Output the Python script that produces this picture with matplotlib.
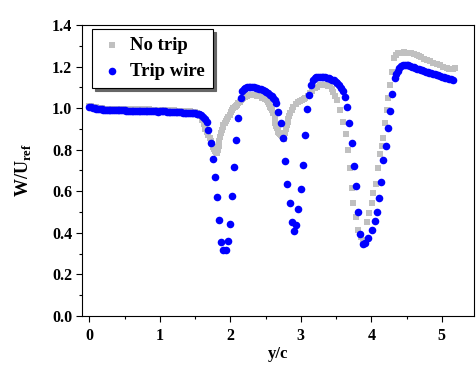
import numpy as np
import matplotlib
matplotlib.use('Agg')
import matplotlib.pyplot as plt

plt.rcParams['font.family'] = ['Liberation Serif', 'DejaVu Serif']
plt.rcParams['font.weight'] = 'bold'
plt.rcParams['mathtext.fontset'] = 'custom'
plt.rcParams['mathtext.rm'] = 'Liberation Serif:bold'
plt.rcParams['mathtext.bf'] = 'Liberation Serif:bold'

# 数据
# No trip
notrip_x = [0.000, 0.025, 0.050, 0.075, 0.100, 0.125, 0.150, 0.175, 0.200, 0.225, 0.250, 0.275,
            0.300, 0.325, 0.350, 0.375, 0.400, 0.425, 0.450, 0.475, 0.500, 0.525, 0.550, 0.575,
            0.600, 0.625, 0.650, 0.675, 0.700, 0.725, 0.750, 0.775, 0.800, 0.825, 0.850, 0.875,
            0.900, 0.925, 0.950, 0.975, 1.000, 1.025, 1.050, 1.075, 1.100, 1.125, 1.150, 1.175,
            1.200, 1.225, 1.250, 1.275, 1.300, 1.325, 1.350, 1.375, 1.400, 1.425, 1.450, 1.475,
            1.500, 1.525, 1.550, 1.575, 1.600, 1.620, 1.641, 1.665, 1.688, 1.707, 1.726, 1.743,
            1.759, 1.771, 1.783, 1.795, 1.807, 1.820, 1.833, 1.844, 1.854, 1.866, 1.878, 1.890,
            1.901, 1.918, 1.936, 1.954, 1.972, 1.990, 2.007, 2.025, 2.043, 2.060, 2.078, 2.095,
            2.113, 2.132, 2.152, 2.168, 2.184, 2.205, 2.223, 2.240, 2.255, 2.275, 2.294, 2.320,
            2.350, 2.385, 2.421, 2.455, 2.492, 2.515, 2.535, 2.550, 2.563, 2.577, 2.591, 2.610,
            2.627, 2.634, 2.646, 2.658, 2.670, 2.681, 2.693, 2.704, 2.717, 2.729, 2.742, 2.755,
            2.765, 2.775, 2.788, 2.800, 2.812, 2.823, 2.835, 2.847, 2.870, 2.894, 2.930, 2.965,
            2.990, 3.017, 3.040, 3.060, 3.095, 3.130, 3.165, 3.201, 3.235, 3.272, 3.305, 3.343,
            3.380, 3.414, 3.440, 3.461, 3.485, 3.509, 3.556, 3.603, 3.637, 3.665, 3.698, 3.726,
            3.745, 3.783, 3.816, 3.850, 3.887, 3.935, 3.972, 4.006, 4.028, 4.062, 4.091, 4.123,
            4.148, 4.170, 4.194, 4.218, 4.238, 4.262, 4.290, 4.322, 4.350, 4.380, 4.405, 4.430,
            4.460, 4.502, 4.530, 4.563, 4.600, 4.644, 4.675, 4.705, 4.745, 4.786, 4.830, 4.875,
            4.925, 4.974, 5.020, 5.070, 5.100, 5.130, 5.160, 5.187]
notrip_y = [1.012, 1.010, 1.007, 1.005, 1.003, 1.001, 1.000, 0.999, 0.998, 0.997, 0.997, 0.996,
            0.996, 0.996, 0.996, 0.996, 0.996, 0.995, 0.996, 0.996, 0.996, 0.995, 0.995, 0.994,
            0.994, 0.994, 0.995, 0.995, 0.996, 0.995, 0.995, 0.996, 0.995, 0.995, 0.994, 0.993,
            0.993, 0.992, 0.992, 0.991, 0.992, 0.992, 0.993, 0.992, 0.991, 0.991, 0.990, 0.989,
            0.989, 0.988, 0.988, 0.987, 0.987, 0.986, 0.986, 0.985, 0.985, 0.984, 0.983, 0.982,
            0.981, 0.978, 0.973, 0.962, 0.945, 0.922, 0.899, 0.885, 0.871, 0.857, 0.842, 0.828,
            0.814, 0.804, 0.794, 0.788, 0.783, 0.800, 0.818, 0.840, 0.862, 0.878, 0.895, 0.907,
            0.919, 0.930, 0.940, 0.950, 0.959, 0.969, 0.979, 0.989, 0.999, 1.005, 1.011, 1.017,
            1.023, 1.030, 1.037, 1.042, 1.047, 1.052, 1.056, 1.060, 1.063, 1.064, 1.065, 1.064,
            1.063, 1.060, 1.056, 1.051, 1.046, 1.038, 1.029, 1.018, 1.007, 0.999, 0.991, 0.975,
            0.952, 0.927, 0.915, 0.904, 0.895, 0.886, 0.880, 0.875, 0.871, 0.866, 0.860, 0.852,
            0.866, 0.880, 0.900, 0.919, 0.934, 0.948, 0.962, 0.975, 0.991, 1.007, 1.020, 1.031,
            1.035, 1.039, 1.043, 1.047, 1.059, 1.071, 1.083, 1.095, 1.103, 1.109, 1.111, 1.111,
            1.108, 1.104, 1.093, 1.079, 1.060, 1.039, 0.991, 0.935, 0.875, 0.798, 0.713, 0.614,
            0.545, 0.478, 0.414, 0.381, 0.366, 0.454, 0.497, 0.542, 0.590, 0.635, 0.713, 0.778,
            0.820, 0.858, 0.927, 0.991, 1.047, 1.111, 1.175, 1.240, 1.255, 1.264, 1.266, 1.267,
            1.268, 1.267, 1.266, 1.265, 1.260, 1.255, 1.250, 1.246, 1.238, 1.231, 1.225, 1.219,
            1.213, 1.207, 1.200, 1.193, 1.190, 1.188, 1.189, 1.191]

# Trip wire
trip_x = [0.000, 0.025, 0.050, 0.075, 0.100, 0.125, 0.150, 0.175, 0.200, 0.225, 0.250, 0.275,
          0.300, 0.325, 0.350, 0.375, 0.400, 0.425, 0.450, 0.475, 0.500, 0.525, 0.550, 0.575,
          0.600, 0.625, 0.650, 0.675, 0.700, 0.725, 0.750, 0.775, 0.800, 0.825, 0.850, 0.875,
          0.900, 0.925, 0.950, 0.975, 1.000, 1.025, 1.050, 1.075, 1.100, 1.125, 1.150, 1.175,
          1.200, 1.225, 1.250, 1.275, 1.300, 1.325, 1.350, 1.375, 1.400, 1.425, 1.450, 1.475,
          1.500, 1.525, 1.550, 1.580, 1.617, 1.645, 1.665, 1.688, 1.722, 1.750, 1.783, 1.811,
          1.840, 1.868, 1.896, 1.939, 1.963, 1.996, 2.028, 2.057, 2.085, 2.113, 2.152, 2.170,
          2.190, 2.210, 2.235, 2.260, 2.285, 2.310, 2.335, 2.360, 2.385, 2.410, 2.435, 2.460,
          2.485, 2.510, 2.535, 2.560, 2.585, 2.610, 2.635, 2.655, 2.681, 2.719, 2.752, 2.780,
          2.809, 2.847, 2.875, 2.904, 2.932, 2.965, 2.999, 3.027, 3.055, 3.084, 3.116, 3.145,
          3.170, 3.195, 3.220, 3.245, 3.270, 3.295, 3.320, 3.345, 3.370, 3.395, 3.420, 3.445,
          3.470, 3.495, 3.520, 3.545, 3.570, 3.595, 3.626, 3.660, 3.688, 3.722, 3.755, 3.783,
          3.811, 3.840, 3.878, 3.911, 3.957, 4.006, 4.048, 4.077, 4.113, 4.142, 4.170, 4.204,
          4.233, 4.265, 4.298, 4.336, 4.355, 4.375, 4.400, 4.425, 4.450, 4.475, 4.500, 4.525,
          4.550, 4.575, 4.600, 4.625, 4.650, 4.675, 4.700, 4.725, 4.750, 4.775, 4.800, 4.825,
          4.850, 4.875, 4.900, 4.925, 4.950, 4.975, 5.000, 5.025, 5.050, 5.075, 5.100, 5.125,
          5.155]
trip_y = [1.007, 1.005, 1.002, 1.000, 0.998, 0.996, 0.995, 0.994, 0.993, 0.992, 0.992, 0.991,
          0.991, 0.990, 0.991, 0.990, 0.990, 0.989, 0.990, 0.989, 0.989, 0.988, 0.987, 0.987,
          0.986, 0.986, 0.987, 0.987, 0.988, 0.987, 0.987, 0.988, 0.987, 0.987, 0.986, 0.985,
          0.985, 0.984, 0.984, 0.983, 0.984, 0.984, 0.985, 0.984, 0.983, 0.983, 0.982, 0.981,
          0.981, 0.980, 0.980, 0.979, 0.979, 0.978, 0.978, 0.977, 0.977, 0.976, 0.976, 0.975,
          0.975, 0.973, 0.971, 0.967, 0.959, 0.948, 0.935, 0.895, 0.831, 0.755, 0.669, 0.571,
          0.462, 0.356, 0.317, 0.317, 0.359, 0.441, 0.577, 0.717, 0.845, 0.952, 1.047, 1.080,
          1.094, 1.099, 1.102, 1.103, 1.103, 1.102, 1.101, 1.099, 1.097, 1.094, 1.090, 1.085,
          1.081, 1.076, 1.071, 1.065, 1.058, 1.050, 1.040, 1.025, 0.983, 0.930, 0.855, 0.747,
          0.633, 0.542, 0.454, 0.410, 0.438, 0.513, 0.611, 0.728, 0.869, 0.994, 1.064, 1.111,
          1.133, 1.143, 1.148, 1.151, 1.152, 1.152, 1.151, 1.150, 1.147, 1.144, 1.141, 1.137,
          1.133, 1.127, 1.119, 1.110, 1.097, 1.080, 1.055, 1.004, 0.927, 0.831, 0.722, 0.625,
          0.502, 0.393, 0.346, 0.350, 0.374, 0.414, 0.457, 0.502, 0.569, 0.646, 0.750, 0.818,
          0.903, 0.986, 1.068, 1.143, 1.165, 1.180, 1.193, 1.201, 1.205, 1.207, 1.207, 1.205,
          1.202, 1.199, 1.196, 1.193, 1.190, 1.187, 1.184, 1.181, 1.178, 1.176, 1.174, 1.171,
          1.168, 1.166, 1.163, 1.160, 1.157, 1.154, 1.151, 1.148, 1.146, 1.143, 1.140, 1.138,
          1.135]

fig = plt.figure(figsize=(4.76, 3.67), dpi=100)
ax = fig.add_axes([0.1723, 0.139, 0.8235, 0.793])

ax.scatter(notrip_x, notrip_y, marker='s', s=22, color='#c0c0c0', linewidths=0, label='No trip', zorder=2)
ax.scatter(trip_x, trip_y, marker='o', s=30, color='#0000ff', linewidths=0, label='Trip wire', zorder=3)

ax.set_xlim(-0.104, 5.457)
ax.set_ylim(0, 1.4)
ax.set_xticks(np.arange(0, 6, 1))
ax.set_xticks(np.arange(0.5, 5.5, 1), minor=True)
ax.set_yticks(np.arange(0, 1.41, 0.2))
ax.set_yticks(np.arange(0.1, 1.4, 0.2), minor=True)
ax.set_yticklabels(['%.1f' % v for v in np.arange(0, 1.41, 0.2)])
ax.tick_params(which='both', direction='out', top=False, right=False, labelsize=11.5, width=0.8)
ax.tick_params(which='major', length=4, pad=3)
ax.tick_params(axis='x', which='major', pad=5)
ax.tick_params(which='minor', length=2.5)
for s in ax.spines.values():
    s.set_linewidth(0.8)

ax.set_xlabel('y/c', fontsize=12, fontweight='bold', labelpad=1)
ax.set_ylabel('W/U$_{\\mathregular{ref}}$', fontsize=13, fontweight='bold', labelpad=14)

leg = ax.legend(loc='upper left', bbox_to_anchor=(0.0265, 0.987), borderaxespad=0,
                fancybox=False, shadow={'color': '#666666', 'alpha': 1.0}, edgecolor='black',
                fontsize=13.5, handletextpad=0.35, borderpad=0.45, labelspacing=0.45,
                handlelength=1.2, markerscale=1.0, framealpha=1)
leg.get_frame().set_linewidth(0.8)

fig.savefig('out.png', dpi=100)
